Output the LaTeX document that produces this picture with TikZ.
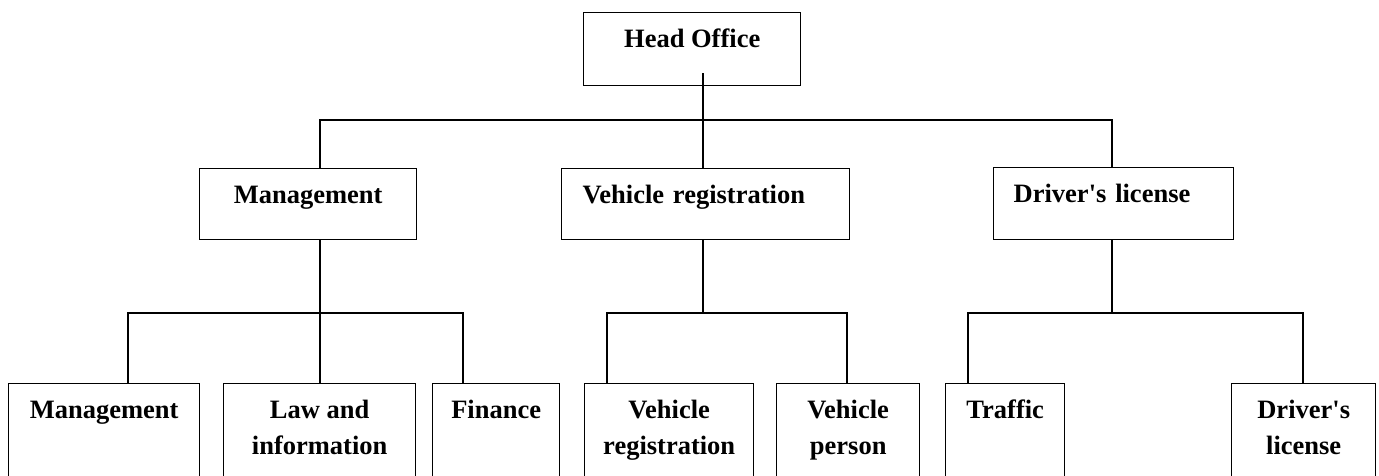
\documentclass[tikz,border=0pt]{standalone}
\usepackage{fontspec}
\setmainfont{Liberation Serif}
\usepackage{tikz}

\begin{document}
\begin{tikzpicture}[x=1pt,y=-1pt,
   box/.style={draw,line width=1.4pt,inner sep=0pt,anchor=north west,
      font=\bfseries\fontsize{26.5}{36}\selectfont,text height=35pt},
   low/.style={box,minimum height=140pt,text depth=105pt,align=center},
   lowtwo/.style={low,text height=71pt,text depth=69pt},
   wire/.style={line width=2pt}]
   \useasboundingbox (0,0) rectangle (1379,476);
   \clip (0,0) rectangle (1379,476);

   % top and second row
   \node[box,minimum width=217pt,minimum height=73pt,text depth=38pt] (head) at (583,12) {Head Office};
   \node[box,minimum width=217pt,minimum height=71pt,text depth=36pt] (mgmt) at (199,168) {Management};
   \node[box,minimum width=288pt,minimum height=71pt,text depth=36pt,
      text width=246pt,align=left] (vreg) at (561,168) {Vehicle registration};
   \node[box,minimum width=240pt,minimum height=72pt,text depth=37pt,
      text width=200pt,align=left] (dlic) at (993,167) {Driver\textquotesingle s license};

   % bottom row
   \node[low,minimum width=191pt] (mgmtb) at (8,383) {Management};
   \node[lowtwo,minimum width=192pt] (law) at (223,383) {Law and\\information};
   \node[low,minimum width=127pt] (fin) at (432,383) {Finance};
   \node[lowtwo,minimum width=169pt] (vregb) at (584,383) {Vehicle\\registration};
   \node[lowtwo,minimum width=143pt] (vpers) at (776,383) {Vehicle\\person};
   \node[low,minimum width=119pt] (traf) at (945,383) {Traffic};
   \node[lowtwo,minimum width=144pt] (dlicb) at (1231,383) {Driver\textquotesingle s\\license};

   \coordinate (hub0) at (703,120);
   \coordinate (hub1) at (320,313);
   \coordinate (hub2) at (703,313);
   \coordinate (hub3) at (1112,313);
   \coordinate (d1) at (128,313);
   \coordinate (d3) at (463,313);
   \coordinate (d4) at (607,313);
   \coordinate (d5) at (847,313);
   \coordinate (d6) at (968,313);
   \coordinate (d7) at (1303,313);
   \path (head.south) ++(0,-13) coordinate (hfoot);

   \draw[wire] (hfoot -| hub0) -- (hub0);
   \draw[wire] (mgmt.north -| hub1) |- (hub0) -| (dlic.north -| hub3);
   \draw[wire] (hub0) -- (vreg.north -| hub0);

   \draw[wire] (mgmt.south -| hub1) -- (law.north -| hub1);
   \draw[wire] (mgmtb.north -| d1) |- (hub1) -| (fin.north -| d3);
   \draw[wire] (vreg.south -| hub2) -- (hub2);
   \draw[wire] (vregb.north -| d4) |- (hub2) -| (vpers.north -| d5);
   \draw[wire] (dlic.south -| hub3) -- (hub3);
   \draw[wire] (traf.north -| d6) |- (hub3) -| (dlicb.north -| d7);
\end{tikzpicture}
\end{document}
